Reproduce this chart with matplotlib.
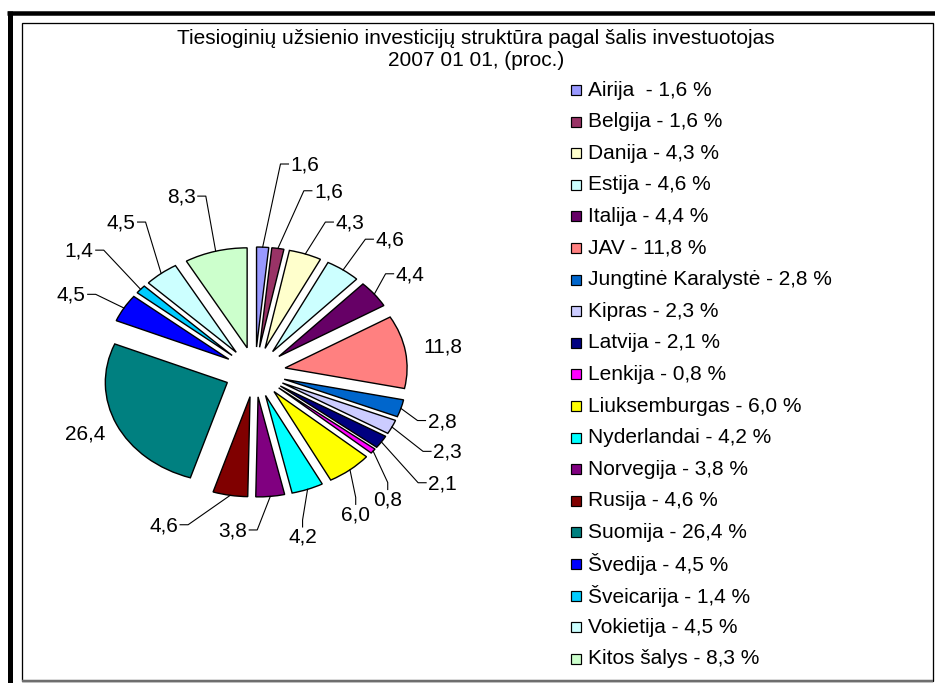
import numpy as np
import matplotlib
matplotlib.use('Agg')
import matplotlib.pyplot as plt
from matplotlib.patches import Rectangle
from matplotlib.lines import Line2D

plt.rcParams['font.family'] = ['Liberation Sans', 'DejaVu Sans']

# ---------------- data ----------------
title_lines = ['Tiesioginių užsienio investicijų struktūra pagal šalis investuotojas',
               '2007 01 01, (proc.)']
countries = ['Airija ', 'Belgija', 'Danija', 'Estija', 'Italija', 'JAV',
             'Jungtinė Karalystė', 'Kipras', 'Latvija', 'Lenkija', 'Liuksemburgas',
             'Nyderlandai', 'Norvegija', 'Rusija', 'Suomija', 'Švedija',
             'Šveicarija', 'Vokietija', 'Kitos šalys']
values = [1.6, 1.6, 4.3, 4.6, 4.4, 11.8, 2.8, 2.3, 2.1, 0.8, 6.0,
          4.2, 3.8, 4.6, 26.4, 4.5, 1.4, 4.5, 8.3]
colors = ['#9999FF', '#993366', '#FFFFCC', '#CCFFFF', '#660066', '#FF8080',
          '#0066CC', '#CCCCFF', '#000080', '#FF00FF', '#FFFF00', '#00FFFF',
          '#800080', '#800000', '#008080', '#0000FF', '#00CCFF', '#CCFFFF',
          '#CCFFCC']

# ---------------- layout (label placement tweaks) ----------------
label_shift = [8.3, 9.8, 8.3, 4.7, 1.1, 0.0, 1.0, 0.9, 2.0, 10.4, 8.5,
               6.9, 12.3, 16.6, 0.8, -3.8, -1.4, 1.6, -4.1]
label_r = [2.11, 1.90, 1.68, 1.72, 1.60, 1.56, 1.61, 1.77, 1.90, 1.68, 1.65,
           1.70, 1.60, 1.71, 1.52, 1.69, 1.88, 1.85, 1.85]


def fmt(v):
    return f'{v:.1f}'.replace('.', ',')


W, H = 935, 683
fig = plt.figure(figsize=(W / 100, H / 100), dpi=100)
fig.patch.set_facecolor('white')


def fx(px):
    return px / W


def fy(py):
    return 1 - py / H


def pt(px):
    return px * 0.72


# ---------------- frame ----------------
fig.add_artist(Line2D([fx(7), fx(935)], [fy(13), fy(13)], color='black',
                      lw=pt(4.5), solid_capstyle='butt'))
fig.add_artist(Line2D([fx(9.5), fx(9.5)], [fy(11), fy(683)], color='black',
                      lw=pt(5), solid_capstyle='butt'))
fig.add_artist(Rectangle((fx(22), fy(681)), fx(933) - fx(22), fy(23) - fy(681),
                         fill=False, edgecolor='black', lw=pt(1.3)))
fig.add_artist(Line2D([fx(22), fx(933)], [fy(681), fy(681)], color='#6e6e6e',
                      lw=pt(2.5), solid_capstyle='butt'))

# ---------------- title ----------------
fig.text(fx(476), fy(38), title_lines[0], ha='center', va='center', fontsize=15)
fig.text(fx(476), fy(60), title_lines[1], ha='center', va='center', fontsize=15)

# ---------------- pie ----------------
cx, cy = 255, 372
sx, sy = 122, 100
L, M = 1.9, 2.2
ax = fig.add_axes([fx(cx - L * sx), fy(cy + M * sy), 2 * L * sx / W, 2 * M * sy / H])
n = len(values)
wedges, _ = ax.pie(values, colors=colors, startangle=90, counterclock=False,
                   explode=[0.25] * n, radius=1.0,
                   wedgeprops=dict(edgecolor='black', linewidth=1.0))
ax.set_aspect('auto')
ax.set_xlim(-L, L)
ax.set_ylim(-M, M)
ax.axis('off')

vals = np.array(values)
total = vals.sum()
mid = 360 * (np.cumsum(vals) - vals / 2) / total

texts = []
for i, v in enumerate(values):
    a = np.radians(mid[i] + label_shift[i])
    lx, ly = label_r[i] * np.sin(a), label_r[i] * np.cos(a)
    t = ax.text(lx, ly, fmt(v), ha='center', va='center', fontsize=15)
    texts.append(t)

fig.canvas.draw()
renderer = fig.canvas.get_renderer()
inv = ax.transData.inverted()
for i, v in enumerate(values):
    if v >= 10:
        continue
    ar = np.radians(mid[i])
    wx, wy = 1.25 * np.sin(ar), 1.25 * np.cos(ar)
    wpx, wpy = ax.transData.transform((wx, wy))
    bb = texts[i].get_window_extent(renderer)
    la = (mid[i] + label_shift[i]) % 360
    if 130 < la < 180:
        xm = (bb.x0 + bb.x1) / 2
        y_near = bb.y1 + 1
        y_far = bb.y1 + 8
        pts = [(wpx, wpy), (xm, y_far), (xm, y_near)]
    else:
        ym = (bb.y0 + bb.y1) / 2 + 1
        if wpx > (bb.x0 + bb.x1) / 2:
            x_near = bb.x1 + 2
            x_far = bb.x1 + 10
        else:
            x_near = bb.x0 - 2
            x_far = bb.x0 - 10
        pts = [(wpx, wpy), (x_far, ym), (x_near, ym)]
    d = inv.transform(pts)
    ax.add_line(Line2D(d[:, 0], d[:, 1], color='black', lw=0.8, clip_on=False))

# ---------------- legend ----------------
for i, (c, v) in enumerate(zip(countries, values)):
    yc = 90 + i * 31.6
    fig.add_artist(Rectangle((fx(571), fy(yc + 5)), 10 / W, 10 / H,
                             facecolor=colors[i], edgecolor='black', lw=pt(1.2)))
    fig.text(fx(588), fy(yc), f'{c} - {fmt(v)} %', ha='left', va='center',
             fontsize=15)

fig.savefig('out.png', dpi=100)
